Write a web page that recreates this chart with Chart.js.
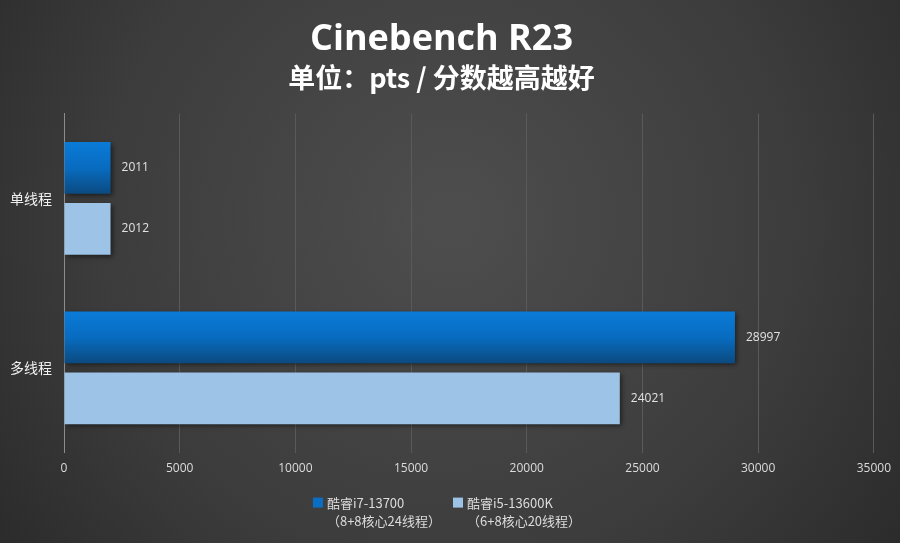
<!DOCTYPE html>
<html>
<head>
<meta charset="utf-8">
<script src="https://cdn.jsdelivr.net/npm/chart.js@4.4.1/dist/chart.umd.min.js"></script>
<style>
  html, body { margin: 0; padding: 0; background: #333; }
  #wrap { width: 900px; height: 543px; }
</style>
</head>
<body>
<div id="wrap"><canvas id="chart"></canvas></div>
<script>
const categories = ["单线程", "多线程"];
const seriesNames = [
  ["酷睿i7-13700", "（8+8核心24线程）"],
  ["酷睿i5-13600K", "（6+8核心20线程）"],
];
const seriesColors = ["#0a6fc4", "#9dc3e6"];
const i7Scores = [2011, 28997];
const i5Scores = [2012, 24021];
const xTicks = [0, 5000, 10000, 15000, 20000, 25000, 30000, 35000];

const FONT = "'Open Sans', 'Noto Sans CJK SC', sans-serif";
const CJK = "'Noto Sans CJK SC', 'Open Sans', sans-serif";

// dark gray radial backdrop
const background = {
  id: "background",
  beforeDraw(chart) {
    const { ctx, width, height } = chart;
    const g = ctx.createRadialGradient(450, 220, 20, 450, 220, 620);
    g.addColorStop(0, "#4d4d4d");
    g.addColorStop(0.55, "#3c3c3c");
    g.addColorStop(1, "#262626");
    ctx.save();
    ctx.fillStyle = g;
    ctx.fillRect(0, 0, width, height);
    ctx.restore();
  },
};

// gradient on the dark blue bars + a soft drop shadow
const barStyle = {
  id: "barStyle",
  beforeDatasetsDraw(chart) {
    const { ctx } = chart;
    chart.getDatasetMeta(0).data.forEach((bar) => {
      const top = bar.y - bar.height / 2;
      const g = ctx.createLinearGradient(0, top, 0, top + bar.height);
      g.addColorStop(0, "#0a7bd8");
      g.addColorStop(0.5, "#086cc0");
      g.addColorStop(1, "#0b4a80");
      bar.options = { ...bar.options, backgroundColor: g };
    });
    ctx.save();
    ctx.shadowColor = "rgba(0,0,0,0.55)";
    ctx.shadowBlur = 5;
    ctx.shadowOffsetX = 2;
    ctx.shadowOffsetY = 2;
  },
  afterDatasetsDraw(chart) {
    chart.ctx.restore();
  },
};

// value labels to the right of each bar
const valueLabels = {
  id: "valueLabels",
  afterDatasetsDraw(chart) {
    const { ctx } = chart;
    ctx.save();
    ctx.font = "12px " + FONT;
    ctx.fillStyle = "#e2e2e2";
    ctx.textBaseline = "middle";
    ctx.textAlign = "left";
    chart.data.datasets.forEach((ds, i) => {
      chart.getDatasetMeta(i).data.forEach((bar, j) => {
        ctx.fillText(String(ds.data[j]), bar.x + 11, bar.y);
      });
    });
    ctx.restore();
  },
};

// two-line legend under the axis, centred
const twoLineLegend = {
  id: "twoLineLegend",
  afterDraw(chart) {
    const { ctx, chartArea } = chart;
    ctx.save();
    ctx.font = "13px " + CJK;
    ctx.textBaseline = "middle";
    ctx.textAlign = "left";
    const box = 10, gap = 4, itemGap = 12;
    const widths = seriesNames.map((lines) =>
      Math.max(...lines.map((t) => ctx.measureText(t).width))
    );
    const total = widths.reduce((a, w) => a + box + gap + w, 0) + itemGap * (widths.length - 1);
    let x = chart.width / 2 - total / 2 - 3;
    const y1 = chartArea.bottom + 50;
    const y2 = y1 + 18;
    seriesNames.forEach((lines, i) => {
      ctx.fillStyle = seriesColors[i];
      ctx.fillRect(x, y1 - box / 2, box, box);
      ctx.fillStyle = "#dcdcdc";
      ctx.fillText(lines[0], x + box + gap, y1);
      ctx.fillText(lines[1], x + box + gap, y2);
      x += box + gap + widths[i] + itemGap;
    });
    ctx.restore();
  },
};

const ctx = document.getElementById("chart").getContext("2d");
new Chart(ctx, {
  type: "bar",
  data: {
    labels: categories,
    datasets: [
      {
        label: seriesNames[0].join(""),
        data: i7Scores,
        backgroundColor: seriesColors[0],
        categoryPercentage: 0.72,
        barPercentage: 0.85,
      },
      {
        label: seriesNames[1].join(""),
        data: i5Scores,
        backgroundColor: seriesColors[1],
        categoryPercentage: 0.72,
        barPercentage: 0.85,
      },
    ],
  },
  options: {
    indexAxis: "y",
    responsive: true,
    maintainAspectRatio: false,
    animation: false,
    layout: { padding: { left: 8, right: 25, top: 0, bottom: 58 } },
    plugins: {
      title: {
        display: true,
        text: "Cinebench R23",
        color: "#ffffff",
        font: { family: FONT, size: 36, weight: "bold" },
        padding: { top: 18, bottom: 0 },
      },
      subtitle: {
        display: true,
        text: "单位：pts / 分数越高越好",
        color: "#ffffff",
        font: { family: CJK, size: 27, weight: "bold" },
        padding: { top: 0, bottom: 20 },
      },
      legend: { display: false },
      tooltip: { enabled: false },
    },
    scales: {
      x: {
        min: 0,
        max: 35000,
        afterBuildTicks(scale) {
          scale.ticks = xTicks.map((v) => ({ value: v }));
        },
        grid: { color: "#5a5a5a", drawTicks: false },
        border: { display: false },
        ticks: {
          color: "#dcdcdc",
          font: { family: FONT, size: 12 },
          padding: 9,
          maxRotation: 0,
          callback: (v) => String(v),
        },
      },
      y: {
        grid: { display: false, drawTicks: false },
        border: { color: "#8c8c8c", width: 1 },
        ticks: {
          color: "#f0f0f0",
          font: { family: CJK, size: 14 },
          padding: 12,
        },
        afterFit(scale) {
          scale.width = 56;
        },
      },
    },
  },
  plugins: [background, barStyle, valueLabels, twoLineLegend],
});
</script>
</body>
</html>
